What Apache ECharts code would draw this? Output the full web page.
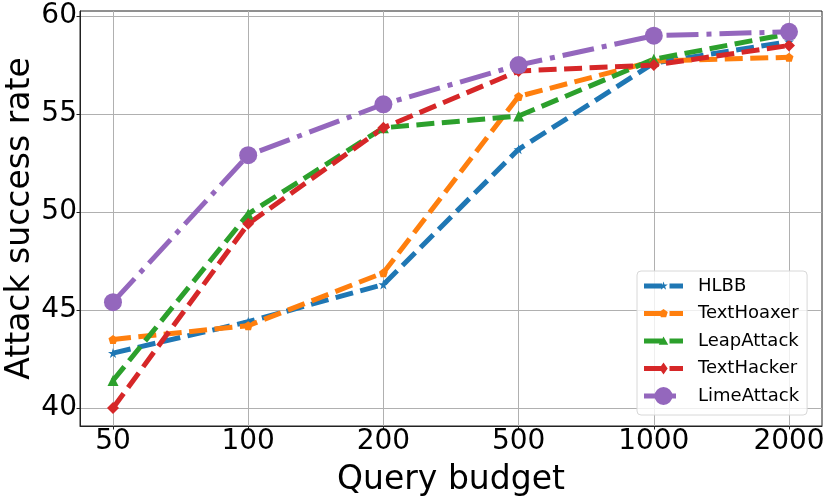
<!DOCTYPE html>
<html>
<head>
<meta charset="utf-8">
<script src="https://cdn.jsdelivr.net/npm/echarts@6/dist/echarts.min.js"></script>
<style>
	html, body { margin: 0; padding: 0; background: #fff; }
	#container { width: 830px; height: 498px; }
</style>
</head>
<body>
<div id="container"></div>
<script>
	// 横轴类别 (查询预算)
	var budgets = ['50', '100', '200', '500', '1000', '2000'];
	var yTicks = [40, 45, 50, 55, 60];

	// 各方法攻击成功率
	var hlbb = [42.8, 44.4, 46.3, 53.2, 57.6, 58.7];
	var textHoaxer = [43.5, 44.2, 46.9, 55.9, 57.7, 57.9];
	var leapAttack = [41.4, 49.9, 54.3, 54.9, 57.8, 59.1];
	var textHacker = [40.0, 49.4, 54.3, 57.2, 57.5, 58.5];
	var limeAttack = [45.4, 52.9, 55.5, 57.5, 59.0, 59.2];

	var font = 'DejaVu Sans';
	var lw = 5;
	var dash = [18, 7.5];
	var dashDot = [32, 8, 5, 8];

	/*多边形标记路径 (中心0,0 半径1)*/
	function polyPoints(n, inner) {
		var pts = [];
		var count = inner ? n * 2 : n;
		for (var i = 0; i < count; i++) {
			var r = (inner && i % 2 == 1) ? inner : 1;
			var a = -Math.PI / 2 + i * Math.PI * 2 / count;
			pts.push([r * Math.cos(a), r * Math.sin(a)]);
		}
		return pts;
	}
	function polyPath(pts, cx, cy, s) {
		var str = '';
		for (var i = 0; i < pts.length; i++) {
			str += (i == 0 ? 'M' : 'L') + (cx + pts[i][0] * s).toFixed(2) + ',' + (cy + pts[i][1] * s).toFixed(2) + ' ';
		}
		return str + 'Z ';
	}
	var starPts = polyPoints(5, 0.38);
	var pentaPts = polyPoints(5);
	var starPath = 'path://' + polyPath(starPts, 0, 0, 10);
	var pentaPath = 'path://' + polyPath(pentaPts, 0, 0, 10);

	/*图例图标: 虚线段 + 中间标记, 宽49 高18*/
	var iconW = 39, iconH = 18, iconBox = 49;
	function legendIcon(pattern, marker, size) {
		var y0 = iconH / 2 - lw / 2, y1 = iconH / 2 + lw / 2;
		var str = 'path://M0,0 L0,0 Z M' + iconBox + ',' + iconH + ' L' + iconBox + ',' + iconH + ' Z ';
		var x = 0, k = 0;
		while (x < iconW) {
			var len = pattern[k % pattern.length];
			if (k % 2 == 0) {
				var xe = Math.min(x + len, iconW);
				str += 'M' + x + ',' + y0 + ' L' + xe + ',' + y0 + ' L' + xe + ',' + y1 + ' L' + x + ',' + y1 + ' Z ';
			}
			x += len;
			k++;
		}
		var cx = iconW / 2, cy = iconH / 2, r = size / 2;
		if (marker == 'star') str += polyPath(starPts, cx, cy, r);
		else if (marker == 'penta') str += polyPath(pentaPts, cx, cy, r);
		else if (marker == 'triangle') str += polyPath(polyPoints(3), cx, cy + r * 0.2, r * 1.1);
		else if (marker == 'diamond') str += 'M' + cx + ',' + (cy - r) + ' L' + (cx + r * 0.7) + ',' + cy + ' L' + cx + ',' + (cy + r) + ' L' + (cx - r * 0.7) + ',' + cy + ' Z ';
		else str += 'M' + (cx + r) + ',' + cy + ' A' + r + ',' + r + ' 0 1 1 ' + (cx - r) + ',' + cy + ' A' + r + ',' + r + ' 0 1 1 ' + (cx + r) + ',' + cy + ' Z';
		return str;
	}

	function toPoints(arr) {
		var out = [];
		for (var i = 0; i < arr.length; i++) {
			out.push([i, arr[i]]);
		}
		return out;
	}

	function makeSeries(name, data, color, symbol, size, lineType) {
		return {
			name: name,
			type: 'line',
			data: toPoints(data),
			symbol: symbol,
			symbolSize: size,
			showAllSymbol: true,
			animation: false,
			itemStyle: { color: color },
			lineStyle: { color: color, width: lw, type: lineType, cap: 'butt' },
			emphasis: { disabled: true }
		};
	}

	var idx = [];
	for (var i = 0; i < budgets.length; i++) idx.push(i);

	var echart = echarts.init(document.getElementById('container'));
	var option = {
		animation: false,
		backgroundColor: '#fff',
		grid: {
			left: 80,
			right: 8,
			top: 11,
			bottom: 72,
			show: true,
			borderColor: '#222',
			borderWidth: 1,
			containLabel: false,
			outerBoundsMode: 'none'
		},
		legend: {
			orient: 'vertical',
			left: 637,
			top: 271,
			itemWidth: iconBox,
			itemHeight: iconH,
			itemGap: 9.5,
			padding: [6, 8, 10, 7],
			backgroundColor: 'rgba(255,255,255,0.8)',
			borderColor: '#d8d8d8',
			borderWidth: 1,
			borderRadius: 4,
			textStyle: { fontFamily: font, fontSize: 18, color: '#000' },
			data: [
				{ name: 'HLBB', icon: legendIcon(dash, 'star', 9) },
				{ name: 'TextHoaxer', icon: legendIcon(dash, 'penta', 9) },
				{ name: 'LeapAttack', icon: legendIcon(dash, 'triangle', 10) },
				{ name: 'TextHacker', icon: legendIcon(dash, 'diamond', 12) },
				{ name: 'LimeAttack', icon: legendIcon(dashDot, 'circle', 18) }
			]
		},
		xAxis: {
			type: 'value',
			min: -0.244,
			max: 5.244,
			name: 'Query budget',
			nameLocation: 'middle',
			nameGap: 38,
			nameMoveOverlap: false,
			nameTextStyle: { fontFamily: font, fontSize: 33, color: '#000' },
			axisLine: { show: true, onZero: false, lineStyle: { color: '#222', width: 1 } },
			axisTick: { show: true, inside: false, length: 3.5, customValues: idx, lineStyle: { color: '#222' } },
			axisLabel: {
				customValues: idx,
				margin: 2,
				fontFamily: font,
				fontSize: 28,
				color: '#000',
				formatter: function(v) { return budgets[Math.round(v)]; }
			},
			splitLine: { show: true, lineStyle: { color: '#b0b0b0', width: 1 } }
		},
		yAxis: {
			type: 'value',
			min: 39.08,
			max: 60.26,
			name: 'Attack success rate',
			nameLocation: 'middle',
			nameGap: 43,
			nameMoveOverlap: false,
			nameTextStyle: { fontFamily: font, fontSize: 33, color: '#000' },
			axisLine: { show: true, onZero: false, lineStyle: { color: '#222', width: 1 } },
			axisTick: { show: true, inside: false, length: 3.5, customValues: yTicks, lineStyle: { color: '#222' } },
			axisLabel: {
				customValues: yTicks,
				margin: 3,
				fontFamily: font,
				fontSize: 28,
				color: '#000'
			},
			splitLine: { show: true, lineStyle: { color: '#b0b0b0', width: 1 } }
		},
		series: [
			makeSeries('HLBB', hlbb, '#1f77b4', starPath, 10, dash),
			makeSeries('TextHoaxer', textHoaxer, '#ff7f0e', pentaPath, 9, dash),
			makeSeries('LeapAttack', leapAttack, '#2ca02c', 'triangle', 11, dash),
			makeSeries('TextHacker', textHacker, '#d62728', 'diamond', 12, dash),
			makeSeries('LimeAttack', limeAttack, '#9467bd', 'circle', 18, dashDot)
		]
	};
	echart.setOption(option);
</script>
</body>
</html>
